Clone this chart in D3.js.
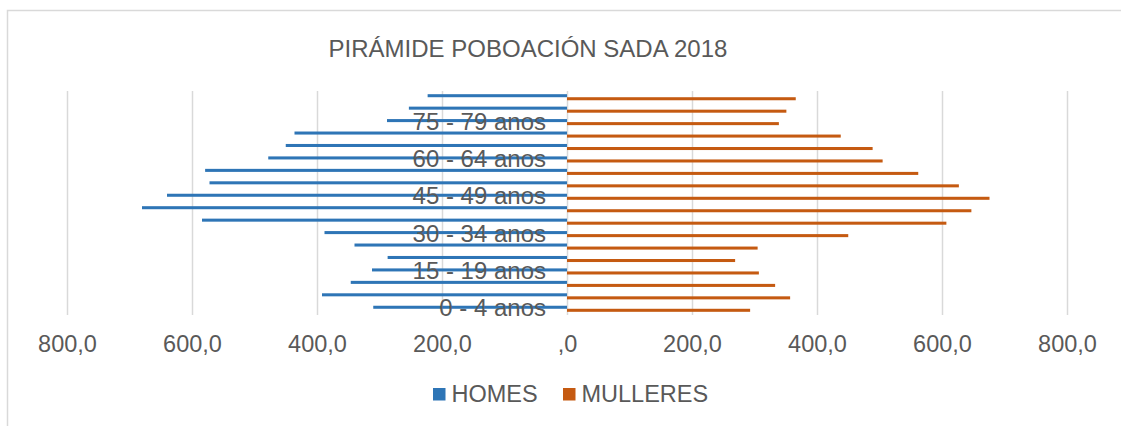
<!DOCTYPE html>
<html>
<head>
<meta charset="utf-8">
<script src="https://cdn.jsdelivr.net/npm/d3@7"></script>
<style>
  body { margin: 0; background: #fff; }
  text { font-family: "Liberation Sans", Arial, sans-serif; fill: #595959; }
</style>
</head>
<body>
<svg></svg>
<script>
// Age groups, bottom to top
const ageGroups = [
  "0 - 4 anos", "5 - 9 anos", "10 - 14 anos", "15 - 19 anos", "20 - 24 anos",
  "25 - 29 anos", "30 - 34 anos", "35 - 39 anos", "40 - 44 anos", "45 - 49 anos",
  "50 - 54 anos", "55 - 59 anos", "60 - 64 anos", "65 - 69 anos", "70 - 74 anos",
  "75 - 79 anos", "80 - 84 anos", "85 e máis anos"
];
const homes = [310, 392, 346, 312, 287, 340, 388, 584, 680, 640, 572, 579, 478, 450, 436, 288, 253, 223];
const mulleres = [293, 357, 333, 307, 269, 305, 450, 607, 647, 676, 627, 562, 505, 489, 438, 339, 351, 366];
const series = ["HOMES", "MULLERES"];
const colors = ["#2e75b6", "#c55a11"];
const tickValues = [-800, -600, -400, -200, 0, 200, 400, 600, 800];
const tickLabels = ["800,0", "600,0", "400,0", "200,0", ",0", "200,0", "400,0", "600,0", "800,0"];
const shownLabels = ["0 - 4 anos", "15 - 19 anos", "30 - 34 anos", "45 - 49 anos", "60 - 64 anos", "75 - 79 anos"];

const width = 1121;
const height = 426;

const svg = d3.select("svg").attr("width", width).attr("height", height);

// chart border (only top and left edges fall inside the picture)
svg.append("rect")
  .attr("x", 7.5).attr("y", 10.5)
  .attr("width", 1300).attr("height", 600)
  .attr("fill", "none")
  .attr("stroke", "#d9d9d9")
  .attr("stroke-width", 1.5);

// plot area
const plotLeft = 67, plotRight = 1067, plotTop = 91, plotBottom = 315;

const xScale = d3.scaleLinear().domain([-800, 800]).range([plotLeft, plotRight]);

const yScale = d3.scaleBand()
  .domain(ageGroups)
  .range([plotBottom, plotTop]);

const subScale = d3.scaleBand()
  .domain(series)
  .range([0, yScale.bandwidth()])
  .paddingInner(0)
  .paddingOuter(1.05);

// x axis with grid lines
const xAxis = d3.axisBottom(xScale)
  .tickValues(tickValues)
  .tickFormat((d, i) => tickLabels[i])
  .tickSize(-(plotBottom - plotTop))
  .tickPadding(20);

const xAxisG = svg.append("g")
  .attr("transform", `translate(0, ${plotBottom})`)
  .call(xAxis);

xAxisG.select(".domain").remove();
xAxisG.selectAll(".tick line").attr("stroke", "#d9d9d9").attr("stroke-width", 1.5);
xAxisG.selectAll(".tick text").attr("font-size", 23.5).attr("fill", "#595959");

// bars
const rows = ageGroups.map((g, i) => ({ group: g, homes: homes[i], mulleres: mulleres[i] }));

svg.append("g").selectAll("rect")
  .data(rows)
  .enter()
  .append("rect")
  .attr("x", (d) => xScale(-d.homes))
  .attr("y", (d) => yScale(d.group) + subScale("HOMES"))
  .attr("width", (d) => xScale(0) - xScale(-d.homes))
  .attr("height", subScale.bandwidth())
  .attr("fill", colors[0]);

svg.append("g").selectAll("rect")
  .data(rows)
  .enter()
  .append("rect")
  .attr("x", xScale(0))
  .attr("y", (d) => yScale(d.group) + subScale("MULLERES"))
  .attr("width", (d) => xScale(d.mulleres) - xScale(0))
  .attr("height", subScale.bandwidth())
  .attr("fill", colors[1]);

// category labels next to the zero line, every third one
const yAxis = d3.axisLeft(yScale)
  .tickValues(shownLabels)
  .tickSize(0)
  .tickPadding(21);

const yAxisG = svg.append("g")
  .attr("transform", `translate(${xScale(0)}, 0)`)
  .call(yAxis);

yAxisG.select(".domain").remove();
yAxisG.selectAll(".tick text").attr("font-size", 24).attr("fill", "#595959");

// title
svg.append("text")
  .attr("x", 528)
  .attr("y", 57)
  .attr("text-anchor", "middle")
  .attr("font-size", 24)
  .text("PIRÁMIDE POBOACIÓN SADA 2018");

// legend
const legendX = [433, 563];
const legend = svg.append("g").selectAll("g")
  .data(series)
  .enter()
  .append("g")
  .attr("transform", (d, i) => `translate(${legendX[i]}, 388)`);

legend.append("rect")
  .attr("width", 12.5)
  .attr("height", 12.5)
  .attr("fill", (d, i) => colors[i]);

legend.append("text")
  .attr("x", 18.5)
  .attr("y", 13.5)
  .attr("font-size", 23.5)
  .text((d) => d);
</script>
</body>
</html>
